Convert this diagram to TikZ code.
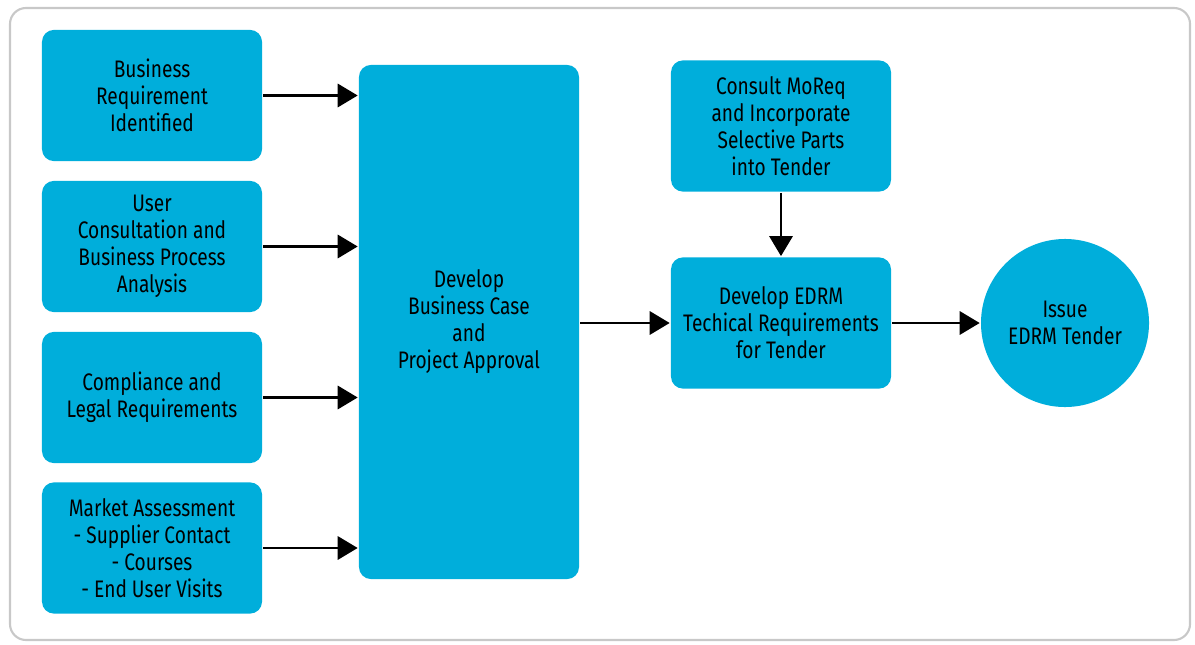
\documentclass[tikz,border=0pt]{standalone}
\usepackage{fontspec}
\setmainfont{Fira Sans}[FakeStretch=0.8]
\usetikzlibrary{arrows.meta}

\definecolor{edrmblue}{RGB}{0,174,219}
\definecolor{framegray}{RGB}{200,200,200}

\begin{document}
\begin{tikzpicture}[x = 0.025cm, y = -0.025cm, line width = 1.8pt,
                        task/.style = {rectangle, rounded corners = 0.3cm, fill = edrmblue, align = center,
                                       inner sep = 0pt, minimum width = 5.5cm, minimum height = 3.28cm,
                                       font = \fontsize{17}{19.2}\selectfont},
                        stage/.style = {task, minimum height = 12.85cm},
                        goal/.style = {circle, fill = edrmblue, align = center, inner sep = 0pt,
                                       minimum size = 4.2cm, font = \fontsize{17}{19.2}\selectfont},
                        flow/.style = {-{Triangle[length = 0.5cm, width = 0.58cm]}}]
      \useasboundingbox (0, 0) rectangle (1195, 644);
      \draw [framegray, line width = 1.5pt, rounded corners = 0.4cm] (10, 8) rectangle (1190, 640);

      \node [task] (b1) at (152, 95.5){Business\\Requirement\\Identified};
      \node [task] (b2) at (152, 246.5){User\\Consultation and\\Business Process\\Analysis};
      \node [task] (b3) at (152, 397.5){Compliance and\\Legal Requirements};
      \node [task] (b4) at (152, 548){Market Assessment\\- Supplier Contact\\- Courses\\- End User Visits};
      \node [stage] (case) at (469, 322){Develop\\Business Case\\and\\Project Approval};
      \node [task] (moreq) at (781, 126){Consult MoReq\\and Incorporate\\Selective Parts\\into Tender};
      \node [task] (tech) at (781, 323){Develop EDRM\\Techical Requirements\\for Tender};
      \node [goal] (issue) at (1065, 323){Issue\\EDRM Tender};

      \draw [flow] (b1) -- (b1 -| case.west);
      \draw [flow] (b2) -- (b2 -| case.west);
      \draw [flow] (b3) -- (b3 -| case.west);
      \draw [flow] (b4) -- (b4 -| case.west);
      \draw [flow] (case.east |- tech) -- (tech);
      \draw [flow] (moreq) -- (tech);
      \draw [flow] (tech) -- (issue);

      \end{tikzpicture}
\end{document}
